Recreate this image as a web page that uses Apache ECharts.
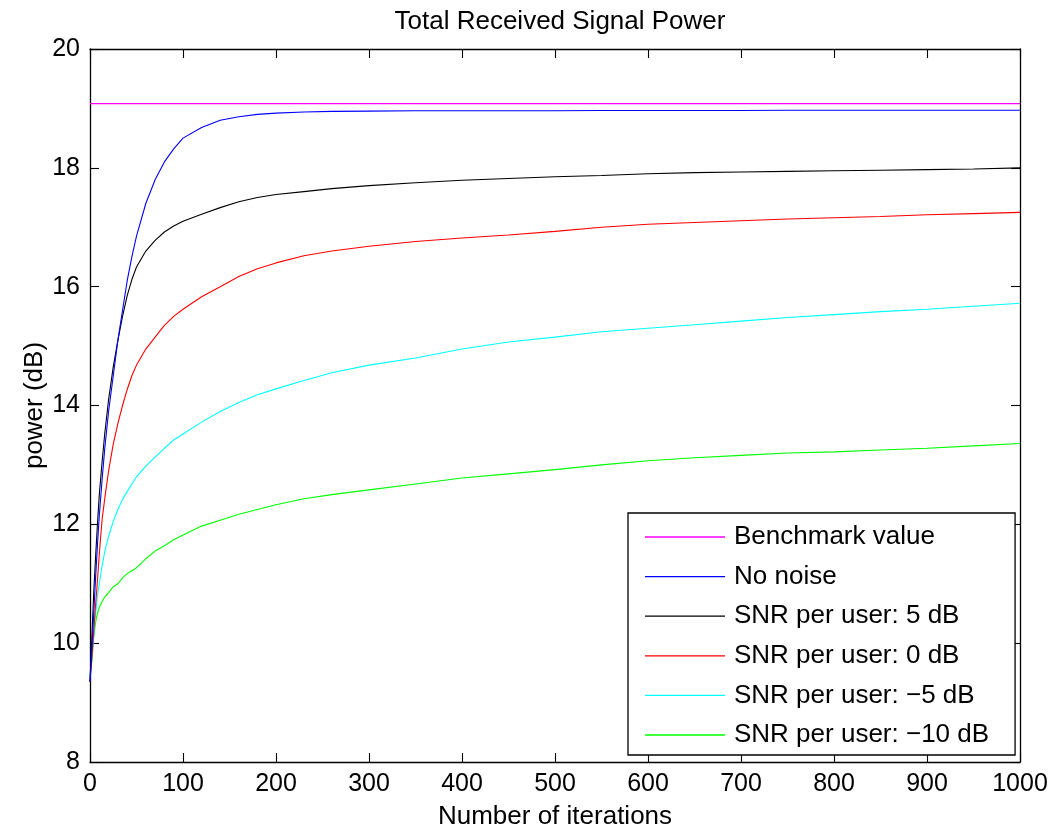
<!DOCTYPE html>
<html>
<head>
<meta charset="utf-8">
<script src="https://cdn.jsdelivr.net/npm/echarts@6/dist/echarts.min.js"></script>
<style>
html,body{margin:0;padding:0;background:#fff;}
#c{width:1055px;height:835px;}
</style>
</head>
<body>
<div id="c"></div>
<script>
const iterations = [0,2,4,6,8,10,13,16,20,25,30,35,40,45,50,60,70,80,90,100,120,140,160,180,200,230,260,300,350,400,450,500,550,600,650,700,750,800,850,900,950,1000];
const benchmarkValue = 19.08;
const noNoise = [9.35,9.9,10.5,11.1,11.65,12.15,12.75,13.3,13.9,14.5,15.1,15.6,16.1,16.5,16.85,17.4,17.8,18.1,18.32,18.5,18.68,18.8,18.86,18.9,18.92,18.94,18.95,18.955,18.96,18.96,18.96,18.96,18.965,18.965,18.965,18.965,18.97,18.97,18.97,18.97,18.97,18.97];
const snr5 = [9.35,10.1,10.85,11.45,12.0,12.5,13.05,13.55,14.1,14.65,15.1,15.5,15.85,16.12,16.33,16.6,16.78,16.92,17.02,17.1,17.22,17.33,17.43,17.5,17.55,17.6,17.65,17.7,17.75,17.79,17.82,17.85,17.87,17.9,17.92,17.93,17.94,17.95,17.96,17.97,17.98,18.0];
const snr0 = [9.35,9.75,10.2,10.65,11.05,11.5,12.08,12.45,12.9,13.35,13.7,14.0,14.27,14.5,14.68,14.95,15.15,15.35,15.5,15.62,15.83,16.0,16.17,16.3,16.4,16.52,16.6,16.68,16.76,16.82,16.87,16.93,17.0,17.05,17.08,17.11,17.14,17.16,17.18,17.21,17.23,17.25];
const snrM5 = [9.4,9.75,10.15,10.5,10.8,11.0,11.3,11.55,11.8,12.05,12.25,12.42,12.55,12.68,12.8,12.98,13.13,13.28,13.42,13.52,13.72,13.9,14.05,14.18,14.28,14.42,14.55,14.68,14.8,14.95,15.07,15.15,15.24,15.3,15.36,15.42,15.48,15.53,15.58,15.62,15.67,15.72];
const snrM10 = [9.45,9.7,10.1,10.35,10.5,10.6,10.7,10.78,10.85,10.95,11.0,11.1,11.17,11.22,11.27,11.42,11.55,11.64,11.74,11.82,11.97,12.07,12.17,12.25,12.33,12.43,12.5,12.58,12.68,12.78,12.85,12.92,13.0,13.07,13.12,13.16,13.2,13.22,13.25,13.28,13.32,13.36];
const seriesNames = ['Benchmark value','No noise','SNR per user: 5 dB','SNR per user: 0 dB','SNR per user: \u22125 dB','SNR per user: \u221210 dB'];
const seriesColors = ['#ff00ff','#0000ff','#000000','#ff0000','#00ffff','#00ff00'];
const xTicks = [0,100,200,300,400,500,600,700,800,900,1000];
const yTicks = [8,10,12,14,16,18,20];

const benchmark = [benchmarkValue, benchmarkValue];
const benchmarkIters = [0, 1000];
const valuesList = [null, noNoise, snr5, snr0, snrM5, snrM10];
const font = 'Liberation Sans, Arial, Helvetica, sans-serif';

const series = seriesNames.map((name, i) => {
  let data;
  if (i === 0) data = benchmarkIters.map((x, k) => [x, benchmark[k]]);
  else data = iterations.map((x, k) => [x, valuesList[i][k]]);
  return {
    name: name, type: 'line', data: data, showSymbol: false, symbol: 'none',
    smooth: false, animation: false, xAxisIndex: 0, yAxisIndex: 0,
    lineStyle: {color: seriesColors[i], width: 1.1},
    itemStyle: {color: seriesColors[i]},
    z: 10 - i
  };
});

const chart = echarts.init(document.getElementById('c'), null, {renderer: 'canvas'});
const axisCommon = {
  axisLine: {show: true, onZero: false, lineStyle: {color: '#000', width: 1.3}},
  axisTick: {show: true, inside: true, length: 9, lineStyle: {color: '#000', width: 1.1}},
  splitLine: {show: false}
};
chart.setOption({
  backgroundColor: '#fff',
  animation: false,
  title: {
    text: 'Total Received Signal Power', left: 555, textAlign: 'center', top: 4,
    textStyle: {fontFamily: font, fontSize: 26, fontWeight: 'normal', color: '#000'}
  },
  grid: {left: 90, right: 35, top: 49, bottom: 70, containLabel: false},
  legend: {
    orient: 'vertical', left: 628, top: 513,
    data: seriesNames,
    icon: 'path://M0,0H80V1.3H0Z',
    itemWidth: 80, itemHeight: 14, itemGap: 13.6,
    padding: [11, 26, 7, 17],
    borderColor: '#000', borderWidth: 1.3, backgroundColor: '#fff',
    textStyle: {fontFamily: font, fontSize: 26, color: '#000', padding: [0, 0, 0, 4]},
    selectedMode: false
  },
  xAxis: [
    Object.assign({
      type: 'value', min: 0, max: 1000, interval: 100, position: 'bottom',
      name: 'Number of iterations', nameLocation: 'middle', nameGap: 42,
      nameMoveOverlap: false,
      nameTextStyle: {fontFamily: font, fontSize: 26, color: '#000'},
      axisLabel: {fontFamily: font, fontSize: 25, color: '#000', margin: 10,
        formatter: v => xTicks.includes(v) ? String(v) : ''}
    }, axisCommon),
    Object.assign({
      type: 'value', min: 0, max: 1000, interval: 100, position: 'top',
      axisLabel: {show: false}
    }, axisCommon)
  ],
  yAxis: [
    Object.assign({
      type: 'value', min: 8, max: 20, interval: 2, position: 'left',
      name: 'power (dB)', nameLocation: 'middle', nameGap: 42, nameRotate: 90,
      nameMoveOverlap: false,
      nameTextStyle: {fontFamily: font, fontSize: 26, color: '#000'},
      axisLabel: {fontFamily: font, fontSize: 25, color: '#000', margin: 10,
        formatter: v => yTicks.includes(v) ? String(v) : ''}
    }, axisCommon),
    Object.assign({
      type: 'value', min: 8, max: 20, interval: 2, position: 'right',
      axisLabel: {show: false}
    }, axisCommon)
  ],
  series: series
});
</script>
</body>
</html>
